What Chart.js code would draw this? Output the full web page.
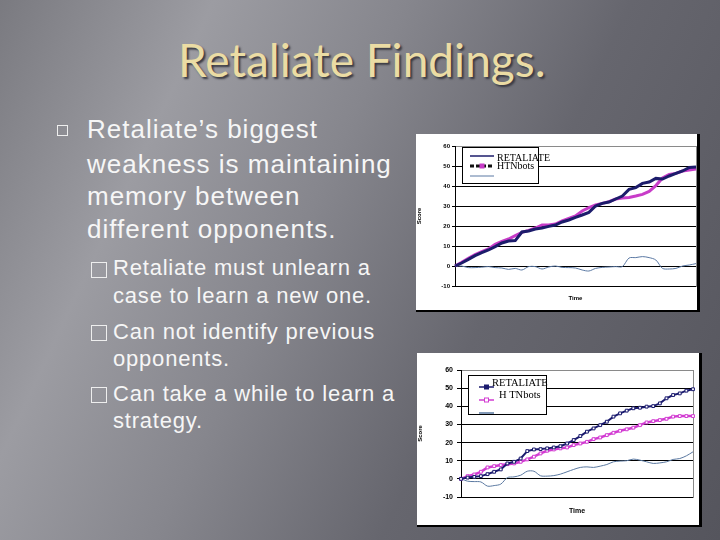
<!DOCTYPE html>
<html>
<head>
<meta charset="utf-8">
<title>Retaliate Findings.</title>
<script src="https://cdn.jsdelivr.net/npm/chart.js@4.4.0/dist/chart.umd.min.js"></script>
<style>
  html, body { margin: 0; padding: 0; }
  #slide {
    position: relative; width: 720px; height: 540px; overflow: hidden;
    background: linear-gradient(115deg, #7a7a80 0%, #9c9ca2 22%, #86868d 42%, #66666e 65%, #55555d 100%);
    font-family: "Liberation Sans", Arial, sans-serif;
  }
  .title {
    position: absolute; left: 178px; top: 37px; line-height: 1;
    font-family: Lato, sans-serif; font-size: 46px; color: #ebdca4;
    text-shadow: 2px 2px 2px #3a3a42; white-space: nowrap;
  }
  .line { position: absolute; color: #f6f6f6; white-space: nowrap; line-height: 1; }
  .main { font-size: 26px; left: 87px; letter-spacing: 1px; }
  .sub { font-size: 22px; left: 113px; letter-spacing: 0.8px; }
  .sq { position: absolute; border: 1px solid #eeeeee; box-sizing: border-box; }
  .sq.small { width: 16px; height: 16px; left: 91px; border-width: 1.5px; }
  .chartbox {
    position: absolute; background: #fff;
    border-right: 3px solid #000; border-bottom: 2px solid #000;
  }
  .chartbox canvas { display: block; }
</style>
</head>
<body>
<div id="slide">
  <div class="title">Retaliate Findings.</div>

  <div class="sq" style="left:57px;top:125px;width:11px;height:11px;"></div>
  <div class="line main" style="top:116px;">Retaliate’s biggest</div>
  <div class="line main" style="top:151px;">weakness is maintaining</div>
  <div class="line main" style="top:183px;">memory between</div>
  <div class="line main" style="top:216px;">different opponents.</div>

  <div class="sq small" style="top:262px;"></div>
  <div class="line sub" style="top:257px;">Retaliate must unlearn a</div>
  <div class="line sub" style="top:285px;">case to learn a new one.</div>
  <div class="sq small" style="top:325px;"></div>
  <div class="line sub" style="top:321px;">Can not identify previous</div>
  <div class="line sub" style="top:348px;">opponents.</div>
  <div class="sq small" style="top:387px;"></div>
  <div class="line sub" style="top:383px;">Can take a while to learn a</div>
  <div class="line sub" style="top:410px;">strategy.</div>

  <div class="chartbox" style="left:416px;top:134px;">
    <canvas id="chart1" width="281" height="176"></canvas>
  </div>
  <div class="chartbox" style="left:417px;top:353px;">
    <canvas id="chart2" width="282" height="172"></canvas>
  </div>
</div>

<script>
// score axis
const scoreMin = -10;
const scoreMax = 60;
const scoreStep = 10;

// top chart
const timeSteps1 = [1, 2, 3, 4, 5, 6, 7, 8, 9, 10, 11, 12, 13, 14, 15, 16, 17, 18, 19, 20,
    21, 22, 23, 24, 25, 26, 27, 28, 29, 30, 31, 32, 33, 34, 35, 36, 37];
const retaliate1 = [0, 1.5, 3.3, 5.2, 6.7, 8, 9.7, 11.5, 12.5, 12.7, 17, 17.5, 18.5, 19, 19.8,
    20.5, 22, 23, 24.3, 25.5, 26.8, 30, 31.3, 32, 33.5, 35, 38.3, 39.2, 41.3, 42, 43.8, 43.5,
    45, 46.3, 47.5, 49.3, 49.5];
const htnbots1 = [0, 1.8, 3.8, 5.7, 7.2, 8.5, 10.8, 12.3, 13.5, 15.2, 16.8, 17.8, 19, 20.5, 20.5,
    21, 22.5, 23.8, 25, 27.5, 29.2, 30.5, 31.3, 32.2, 33.5, 34, 34.3, 35, 35.8, 37.3, 40.2, 44,
    45.8, 46.3, 47.5, 48, 48.5];
const difference1 = [0, 0, -0.8, -0.8, -0.6, -0.3, -0.8, -1, -1.7, -1.2, -2, -0.3, -0.3, -1.5,
    -0.5, 0, -0.7, -0.8, -1, -2, -2.5, -1.2, -0.7, -0.5, -0.3, -0.3, 4, 4.2, 4.7, 4.2, 3, -1.2,
    -1.5, -1.2, 0, 0.5, 1.2];

// bottom chart
const timeSteps2 = [1, 2, 3, 4, 5, 6, 7, 8, 9, 10, 11, 12, 13, 14, 15, 16, 17, 18, 19, 20,
    21, 22, 23, 24, 25, 26, 27, 28, 29, 30, 31, 32, 33, 34, 35, 36];
const retaliate2 = [0, 0.7, 1.1, 1.5, 2.6, 3.9, 5.2, 8.5, 9.4, 11.2, 15.3, 16.2, 16.4, 16.8,
    17.3, 18, 19.5, 21.4, 23.6, 26, 27.8, 29.6, 31.5, 34.3, 36.1, 37.6, 38.9, 39.2, 39.8, 40.1,
    41.6, 44.4, 46.2, 47.1, 48.6, 49.4];
const htnbots2 = [0, 1.5, 2.4, 3.9, 6.3, 7, 7.6, 8.1, 8.5, 9.4, 10.7, 12.2, 14, 15.5, 16.2,
    16.8, 17.3, 18.6, 19.5, 20.4, 21.9, 22.8, 24.1, 25.4, 26.5, 27.3, 28.2, 29.6, 31.1, 31.8,
    32.4, 33.1, 34.3, 34.6, 34.6, 34.6];
const difference2 = [0, -1.3, -1.5, -1.7, -4, -3.7, -2.9, 0.7, 1.1, 2, 4.2, 4.2, 1.7, 1.5, 1.8,
    2.6, 3.9, 5.2, 6.3, 6.6, 6.3, 7, 7.9, 9.4, 9.8, 10, 10.9, 10.3, 9.4, 8.5, 8.8, 9.4, 10.7,
    11.2, 12.7, 14.9];

const seriesNames = ['RETALIATE', 'HTNbots', ''];

// legend drawn as a framed box inside the plot, like the old Excel charts
const boxLegend = {
    id: 'boxLegend',
    afterDatasetsDraw(chart, args, opts) {
        const ctx = chart.ctx;
        const ca = chart.chartArea;
        const x0 = ca.left + opts.left;
        const y0 = ca.top + opts.top;
        ctx.save();
        ctx.fillStyle = '#fff';
        ctx.fillRect(x0, y0, opts.width, opts.height);
        ctx.strokeStyle = '#000';
        ctx.lineWidth = 1;
        ctx.strokeRect(x0 + 0.5, y0 + 0.5, opts.width, opts.height);
        ctx.font = opts.font;
        ctx.textBaseline = 'middle';
        chart.data.datasets.forEach((ds, i) => {
            const s = opts.samples[i];
            const y = y0 + s.y;
            ctx.strokeStyle = s.color;
            ctx.lineWidth = s.width;
            ctx.setLineDash(s.dash || []);
            ctx.beginPath();
            ctx.moveTo(x0 + opts.lineFrom, y);
            ctx.lineTo(x0 + opts.lineTo, y);
            ctx.stroke();
            ctx.setLineDash([]);
            if (s.marker) {
                const mx = x0 + (opts.lineFrom + opts.lineTo) / 2;
                ctx.fillStyle = s.markerFill;
                ctx.fillRect(mx - 2, y - 2, 4, 4);
                ctx.strokeStyle = s.marker;
                ctx.lineWidth = 1;
                ctx.strokeRect(mx - 2, y - 2, 4, 4);
            }
            ctx.fillStyle = '#000';
            ctx.fillText(ds.label, x0 + s.textX, y0 + s.textY);
        });
        ctx.restore();
    }
};

function scoreAxes(o) {
    return {
        x: {
            ticks: { display: false },
            grid: { display: false },
            border: { color: '#000', width: 1 },
            title: {
                display: true, text: 'Time', color: '#000',
                font: { family: 'Liberation Sans', size: o.titleSize, weight: 'bold' },
                padding: { top: 0, bottom: o.timePad }
            },
            afterFit: s => { s.height = o.xHeight; }
        },
        y: {
            min: scoreMin, max: scoreMax,
            ticks: {
                stepSize: scoreStep, color: '#000', padding: o.tickPad,
                font: { family: 'Liberation Sans', size: o.tickSize, weight: 'bold' }
            },
            grid: {
                color: c => c.tick && c.tick.value === scoreMax ? '#8a8a8a' : '#000',
                lineWidth: 1, tickLength: o.tickLen, tickColor: '#000'
            },
            border: { color: '#000', width: 1 },
            title: {
                display: true, text: 'Score', color: '#000',
                font: { family: 'Liberation Sans', size: 6, weight: 'bold' },
                padding: 0
            },
            afterFit: s => { s.width = o.yWidth; }
        },
        yRight: {
            position: 'right', min: scoreMin, max: scoreMax,
            ticks: { display: false },
            grid: { display: false },
            border: { color: '#8a8a8a', width: 1 },
            afterFit: s => { s.width = 0; }
        }
    };
}

new Chart(document.getElementById('chart1'), {
    type: 'line',
    data: {
        labels: timeSteps1,
        datasets: [
            { label: seriesNames[0], data: retaliate1, borderColor: '#1c1c6b', borderWidth: 3,
              pointRadius: 0, tension: 0 },
            { label: seriesNames[1], data: htnbots1, borderColor: '#c83cc8', borderWidth: 3,
              pointRadius: 0, tension: 0 },
            { label: seriesNames[2], data: difference1, borderColor: '#5a78a3', borderWidth: 1,
              pointRadius: 0, tension: 0.3 }
        ]
    },
    options: {
        responsive: false,
        animation: false,
        layout: { padding: { top: 12, right: 1, left: 0, bottom: 0 } },
        scales: scoreAxes({ titleSize: 6, timePad: 8, xHeight: 24, tickSize: 6, tickPad: 2,
                            tickLen: 3, yWidth: 39 }),
        plugins: {
            legend: { display: false },
            tooltip: { enabled: false },
            boxLegend: {
                left: 7, top: 1, width: 76, height: 36,
                lineFrom: 8, lineTo: 32,
                font: '10px "Liberation Serif"',
                samples: [
                    { y: 9, color: '#1c1c6b', width: 1.5, textX: 35, textY: 11 },
                    { y: 19, color: '#111', width: 3, dash: [4, 2], marker: '#c83cc8',
                      markerFill: '#c83cc8', textX: 35, textY: 19 },
                    { y: 29, color: '#5a78a3', width: 1, textX: 35, textY: 29 }
                ]
            }
        }
    },
    plugins: [boxLegend]
});

new Chart(document.getElementById('chart2'), {
    type: 'line',
    data: {
        labels: timeSteps2,
        datasets: [
            { label: seriesNames[0], data: retaliate2, borderColor: '#1a1a6e', borderWidth: 2,
              pointStyle: 'rect', pointRadius: 2, pointBorderWidth: 1,
              pointBackgroundColor: '#fff', pointBorderColor: '#1a1a6e', tension: 0 },
            { label: 'H TNbots', data: htnbots2, borderColor: '#d23cd2', borderWidth: 2.5,
              pointStyle: 'rect', pointRadius: 2, pointBorderWidth: 1,
              pointBackgroundColor: '#fff', pointBorderColor: '#d23cd2', tension: 0 },
            { label: seriesNames[2], data: difference2, borderColor: '#5a78a0', borderWidth: 1,
              pointRadius: 0, tension: 0.3 }
        ]
    },
    options: {
        responsive: false,
        animation: false,
        layout: { padding: { top: 17, right: 6, left: 0, bottom: 0 } },
        scales: scoreAxes({ titleSize: 7, timePad: 10, xHeight: 28, tickSize: 7, tickPad: 4,
                            tickLen: 4, yWidth: 44 }),
        plugins: {
            legend: { display: false },
            tooltip: { enabled: false },
            boxLegend: {
                left: 7, top: 5, width: 78, height: 39,
                lineFrom: 11, lineTo: 26,
                font: '10.5px "Liberation Serif"',
                samples: [
                    { y: 12, color: '#1a1a6e', width: 1.5, marker: '#1a1a6e',
                      markerFill: '#1a1a6e', textX: 24, textY: 8 },
                    { y: 25, color: '#d23cd2', width: 1.5, marker: '#d23cd2',
                      markerFill: '#fff', textX: 31, textY: 20 },
                    { y: 38, color: '#5a78a0', width: 1.5, textX: 31, textY: 38 }
                ]
            }
        }
    },
    plugins: [boxLegend]
});
</script>
</body>
</html>
